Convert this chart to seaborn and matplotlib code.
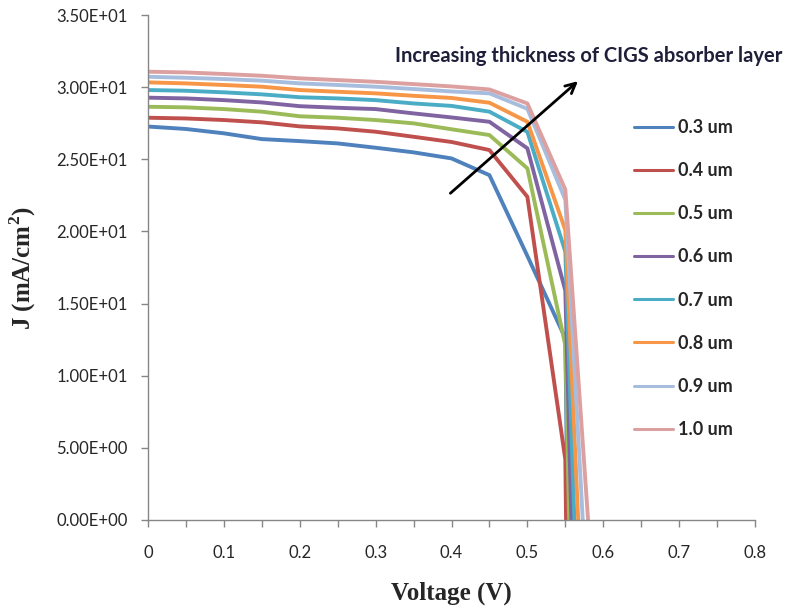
import matplotlib
matplotlib.use("Agg")
import matplotlib.pyplot as plt
from matplotlib.ticker import MultipleLocator, FuncFormatter
import seaborn as sns
import pandas as pd

# voltage sweep points (V), the last point of each curve is its Voc
voltage = [0, 0.05, 0.1, 0.15, 0.2, 0.25, 0.3, 0.35, 0.4, 0.45, 0.5, 0.55]
thickness = ["0.3 um", "0.4 um", "0.5 um", "0.6 um", "0.7 um", "0.8 um", "0.9 um", "1.0 um"]
voc = [0.553, 0.551, 0.555, 0.558, 0.562, 0.567, 0.573, 0.580]

# current density (mA/cm2)
j_03 = [27.27, 27.10, 26.80, 26.40, 26.26, 26.10, 25.80, 25.48, 25.06, 23.90, 18.30, 12.6]
j_04 = [27.88, 27.83, 27.72, 27.56, 27.28, 27.14, 26.91, 26.56, 26.20, 25.64, 22.40, 4.2]
j_05 = [28.64, 28.60, 28.48, 28.30, 27.98, 27.88, 27.72, 27.49, 27.08, 26.68, 24.37, 12.1]
j_06 = [29.27, 29.22, 29.10, 28.94, 28.68, 28.57, 28.48, 28.18, 27.90, 27.60, 25.76, 15.9]
j_07 = [29.80, 29.75, 29.64, 29.50, 29.30, 29.22, 29.10, 28.87, 28.70, 28.30, 26.90, 18.6]
j_08 = [30.33, 30.26, 30.15, 30.03, 29.80, 29.68, 29.57, 29.40, 29.25, 28.92, 27.60, 20.1]
j_09 = [30.72, 30.65, 30.56, 30.45, 30.26, 30.15, 30.03, 29.87, 29.70, 29.57, 28.50, 22.2]
j_10 = [31.07, 31.02, 30.91, 30.79, 30.61, 30.49, 30.37, 30.21, 30.05, 29.84, 28.87, 22.9]

colors = ["#4F81BD", "#C0504D", "#9BBB59", "#8064A2", "#4BACC6", "#F79646", "#A7BDDD", "#DDA0A0"]

rows = []
for name, js, v_oc in zip(thickness, [j_03, j_04, j_05, j_06, j_07, j_08, j_09, j_10], voc):
    for i, (v, j) in enumerate(zip(voltage + [v_oc], js + [0.0])):
        rows.append({"V": v, "J": j, "thickness": name, "order": i})
df = pd.DataFrame(rows)

sns.set_theme(style="white")
plt.rcParams["font.family"] = ["Lato", "DejaVu Sans"]
plt.rcParams["mathtext.fontset"] = "custom"
plt.rcParams["mathtext.rm"] = "Liberation Serif:bold"

fig = plt.figure(figsize=(7.88, 6.13), dpi=100)
ax = fig.add_axes([148 / 788, 1 - 520 / 613, (755 - 148) / 788, (520 - 15) / 613])

sns.lineplot(data=df, x="V", y="J", hue="thickness", hue_order=thickness,
             palette=colors, sort=False, estimator=None, units="thickness",
             linewidth=2.8, ax=ax, legend=True)

ax.set_xlim(0, 0.8)
ax.set_ylim(0, 35)
ax.xaxis.set_major_locator(MultipleLocator(0.1))
ax.xaxis.set_minor_locator(MultipleLocator(0.05))
ax.yaxis.set_major_locator(MultipleLocator(5))
ax.xaxis.set_major_formatter(FuncFormatter(lambda x, p: "%g" % round(x, 2)))
ax.yaxis.set_major_formatter(FuncFormatter(lambda y, p: "{:.2E}".format(y)))

for side in ["top", "right"]:
    ax.spines[side].set_visible(False)
for side in ["left", "bottom"]:
    ax.spines[side].set_color("#868686")
    ax.spines[side].set_linewidth(1.0)

ax.tick_params(axis="both", which="both", direction="out", color="#868686",
               length=5, width=1, labelsize=12, labelcolor="#262626")
ax.tick_params(axis="x", which="both", bottom=True, pad=13)
ax.tick_params(axis="y", which="major", left=True, pad=9.5)

ax.set_xlabel("Voltage (V)", family="Liberation Serif", fontweight="bold", fontsize=18)
ax.set_ylabel("J (mA/cm$^2$)", family="Liberation Serif", fontweight="bold", fontsize=18)
ax.xaxis.set_label_coords(0.5, -0.122)
ax.yaxis.set_label_coords(-0.181, 0.499)

# legend on the right
ax.legend(loc="center left", bbox_to_anchor=(634 / 788, 1 - 278.5 / 613),
          bbox_transform=fig.transFigure, frameon=False,
          handlelength=2.16, handletextpad=0.3, labelspacing=1.45,
          borderpad=0, borderaxespad=0, prop={"weight": "bold", "size": 13})
for line in ax.get_legend().get_lines():
    line.set_linewidth(2.2)

# arrow and label
ax.annotate("", xy=(0.5694, 30.54), xytext=(0.3958, 22.52),
            arrowprops=dict(arrowstyle="->", color="black", lw=2, mutation_scale=18))
ax.text(0.581, 32.15, "Increasing thickness of CIGS absorber layer", ha="center", va="center",
        fontsize=14.5, fontweight="bold", color="#1F1F3A", clip_on=False)

fig.savefig("out.png", dpi=100)
